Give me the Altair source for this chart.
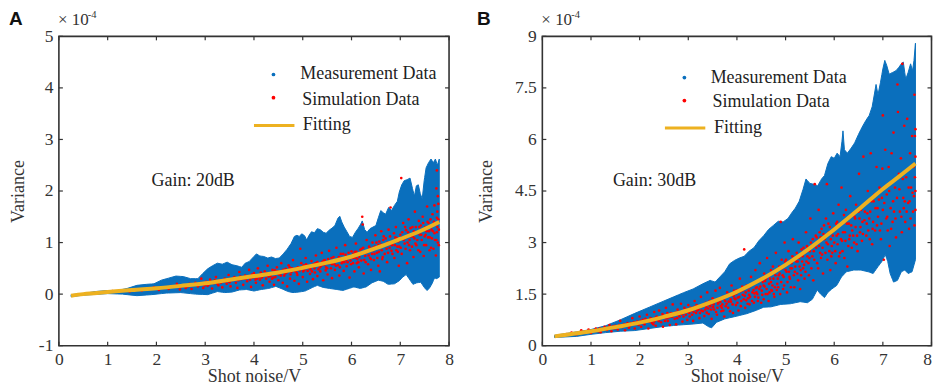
import altair as alt
import pandas as pd

FONT = "Liberation Serif"
INK = "#333333"
BLUE = "#0A6FBD"
RED = "#FF0000"
GOLD = "#EDB120"
H = 310

x_ticks = [0, 1, 2, 3, 4, 5, 6, 7, 8]
y_ticks_a = [-1, 0, 1, 2, 3, 4, 5]
y_ticks_b = [0, 1.5, 3, 4.5, 6, 7.5, 9]

fit_a_x = [0.25, 0.5, 1, 1.5, 2, 2.5, 3, 3.5, 4, 4.5, 5, 5.5, 6, 6.5, 7, 7.4, 7.8]
fit_a_y = [-0.03, 0.0, 0.04, 0.08, 0.115, 0.16, 0.21, 0.28, 0.35, 0.42, 0.51, 0.61, 0.73, 0.89, 1.07, 1.22, 1.4]
fit_b_x = [0.25, 0.5, 1, 1.5, 2, 2.5, 3, 3.5, 4, 4.5, 5, 5.5, 6, 6.5, 7, 7.35, 7.67]
fit_b_y = [0.27, 0.32, 0.42, 0.54, 0.67, 0.84, 1.03, 1.28, 1.57, 1.93, 2.35, 2.84, 3.38, 3.96, 4.56, 4.94, 5.3]

up_a = [(.25,-.01),(.5,.01),(.75,.05),(1,.07),(1.2,.07),(1.4,.11),(1.6,.17),(1.8,.19),(1.95,.2),(2.1,.27),(2.25,.31),(2.4,.35),(2.55,.34),(2.7,.3),(2.85,.3),(2.95,.4),(3.05,.49),(3.15,.55),(3.25,.6),(3.35,.58),(3.45,.62),(3.55,.57),(3.65,.55),(3.75,.52),(3.82,.6),(3.9,.63),(3.97,.7),(4.05,.78),(4.12,.74),(4.2,.73),(4.28,.7),(4.36,.72),(4.44,.69),(4.52,.7),(4.6,.78),(4.68,.87),(4.76,.98),(4.83,1.12),(4.88,1.14),(4.93,1.12),(4.98,1.17),(5.04,1.13),(5.08,1.05),(5.13,1.14),(5.18,1.21),(5.24,1.19),(5.3,1.27),(5.36,1.25),(5.42,1.2),(5.48,1.18),(5.54,1.24),(5.6,1.28),(5.66,1.33),(5.72,1.47),(5.76,1.51),(5.8,1.4),(5.85,1.3),(5.9,1.22),(5.96,1.12),(6.02,1.1),(6.08,1.2),(6.14,1.28),(6.19,1.36),(6.22,1.42),(6.27,1.25),(6.32,1.2),(6.38,1.27),(6.44,1.3),(6.5,1.33),(6.55,1.48),(6.6,1.62),(6.65,1.58),(6.7,1.55),(6.76,1.68),(6.82,1.62),(6.88,1.72),(6.94,1.8),(6.98,1.98),(7.03,2.12),(7.08,2.2),(7.14,2.22),(7.2,2.25),(7.25,2.05),(7.29,1.9),(7.33,2.1),(7.37,2.12),(7.41,1.95),(7.45,1.85),(7.49,2.2),(7.53,2.45),(7.58,2.55),(7.63,2.62),(7.68,2.55),(7.72,2.62),(7.76,2.5),(7.8,2.62)]
lo_a = [(.25,-.05),(.5,-.02),(1,.01),(1.3,.0),(1.6,-.03),(1.9,-.01),(2.2,.02),(2.5,.03),(2.8,0),(3.05,-.01),(3.25,.05),(3.4,.03),(3.55,.04),(3.7,.08),(3.85,.09),(4.0,.06),(4.15,.09),(4.3,.11),(4.45,.15),(4.58,.1),(4.7,.05),(4.8,.03),(4.92,.04),(5.05,.06),(5.2,.13),(5.3,.17),(5.42,.13),(5.55,.11),(5.7,.09),(5.82,.07),(5.95,.11),(6.05,.14),(6.18,.11),(6.3,.14),(6.42,.22),(6.55,.27),(6.65,.25),(6.75,.19),(6.88,.2),(6.98,.26),(7.05,.33),(7.12,.38),(7.18,.3),(7.26,.19),(7.34,.22),(7.42,.23),(7.5,.12),(7.55,.07),(7.6,.12),(7.65,.2),(7.7,.31),(7.75,.3),(7.8,.33)]
up_b = [(.25,.3),(.7,.4),(1,.47),(1.3,.58),(1.6,.75),(1.9,.94),(2.2,1.12),(2.5,1.3),(2.7,1.42),(2.9,1.54),(3.1,1.65),(3.3,1.8),(3.45,1.9),(3.55,1.85),(3.65,2.0),(3.75,2.15),(3.85,2.38),(3.95,2.48),(4.05,2.55),(4.15,2.6),(4.25,2.75),(4.35,2.85),(4.45,3.05),(4.55,3.2),(4.65,3.38),(4.75,3.5),(4.85,3.62),(4.95,3.6),(5.05,3.7),(5.12,3.85),(5.2,4.0),(5.28,4.2),(5.36,4.55),(5.42,4.85),(5.5,4.72),(5.58,4.7),(5.66,4.65),(5.74,4.85),(5.8,4.95),(5.87,5.3),(5.94,5.5),(6.0,5.45),(6.06,5.6),(6.12,5.5),(6.16,5.95),(6.18,6.25),(6.21,5.7),(6.27,5.6),(6.35,5.75),(6.42,5.9),(6.5,6.15),(6.57,6.35),(6.65,6.55),(6.72,6.7),(6.78,6.95),(6.83,7.35),(6.86,7.6),(6.9,7.3),(6.95,7.65),(7.0,8.05),(7.04,8.3),(7.08,8.15),(7.13,7.9),(7.2,7.95),(7.27,8.0),(7.33,8.1),(7.38,8.2),(7.42,8.25),(7.47,7.75),(7.52,7.95),(7.57,8.2),(7.61,8.0),(7.64,8.3),(7.67,8.8)]
lo_b = [(.25,.24),(.7,.27),(1,.33),(1.3,.38),(1.6,.42),(1.9,.44),(2.2,.5),(2.5,.56),(2.8,.6),(3.1,.63),(3.3,.66),(3.42,.55),(3.48,.52),(3.58,.68),(3.75,.78),(4.0,.86),(4.2,.93),(4.4,1.03),(4.55,1.12),(4.7,1.13),(4.9,1.2),(5.1,1.22),(5.3,1.28),(5.45,1.25),(5.55,1.35),(5.65,1.62),(5.72,1.5),(5.8,1.4),(5.87,1.55),(5.95,1.65),(6.05,1.75),(6.15,2.0),(6.25,2.15),(6.4,2.2),(6.55,2.2),(6.7,2.15),(6.8,2.1),(6.9,2.3),(6.98,2.45),(7.05,2.65),(7.1,2.45),(7.15,2.1),(7.22,1.85),(7.3,1.9),(7.38,2.15),(7.45,2.2),(7.52,2.1),(7.6,2.15),(7.67,2.5)]

sim_a = [
(1.1,.06),(1.2,.05),(1.3,.07),(1.45,.05),(1.6,.09),(1.7,.07),(1.85,.1),(1.95,.13),(2.05,.08),(2.15,.12),(2.25,.1),(2.35,.15),(2.42,.2),(2.48,.09),(2.55,.17),(2.6,.12),(2.68,.2),(2.72,.1),(2.8,.22),(2.85,.15),(2.92,.3),(2.96,.12),
(3.02,.24),(3.05,.16),(3.1,.28),(3.14,.11),(3.18,.21),(3.22,.33),(3.27,.17),(3.3,.26),(3.35,.13),(3.4,.3),(3.44,.2),(3.48,.37),(3.52,.15),(3.55,.27),(3.6,.33),(3.63,.22),(3.66,.12),(3.7,.43),(3.74,.29),(3.78,.18),(3.82,.36),(3.86,.25),(3.9,.47),(3.94,.14),(3.97,.32),
(4.0,.41),(4.04,.22),(4.08,.5),(4.12,.28),(4.15,.37),(4.18,.17),(4.22,.44),(4.25,.3),(4.28,.55),(4.32,.24),(4.35,.39),(4.38,.47),(4.41,.18),(4.44,.33),(4.47,.52),(4.5,.27),(4.53,.42),(4.56,.6),(4.59,.22),(4.62,.36),(4.65,.49),(4.68,.15),(4.71,.56),(4.74,.3),(4.77,.43),(4.8,.66),(4.83,.26),(4.86,.5),(4.89,.37),(4.92,.2),(4.95,.88),(4.97,.6),
(5.0,.33),(5.03,.47),(5.06,.7),(5.09,.24),(5.12,.55),(5.15,.39),(5.18,.64),(5.21,.29),(5.24,.5),(5.27,.75),(5.3,.35),(5.33,.59),(5.36,.44),(5.39,.8),(5.42,.27),(5.45,.66),(5.48,.52),(5.51,.38),(5.54,.84),(5.57,.61),(5.6,.31),(5.63,.72),(5.66,.47),(5.69,.9),(5.72,.56),(5.75,.36),(5.78,.78),(5.81,.64),(5.84,.45),(5.87,.95),(5.9,.54),(5.93,.7),(5.96,.32),
(6.0,.83),(6.03,.6),(6.06,.44),(6.09,.98),(6.12,.68),(6.15,.52),(6.18,.86),(6.22,1.5),(6.23,1.35),(6.25,.4),(6.28,.74),(6.31,1.05),(6.34,.58),(6.37,.9),(6.4,.47),(6.43,1.0),(6.46,.66),(6.49,1.14),(6.52,.8),(6.55,.55),(6.58,.44),(6.61,1.22),(6.64,.72),(6.67,.95),(6.7,1.08),(6.73,.62),(6.76,1.25),(6.8,1.68),(6.82,.84),(6.85,1.02),(6.88,.7),(6.91,1.3),(6.94,.92),(6.97,.55),
(7.02,2.25),(7.0,1.15),(7.03,.78),(7.06,1.38),(7.09,.98),(7.12,1.24),(7.14,.6),(7.17,1.45),(7.2,.85),(7.22,1.12),(7.25,1.3),(7.27,.72),(7.3,1.6),(7.33,.95),(7.36,1.2),(7.38,1.42),(7.41,.82),(7.44,1.05),(7.46,1.5),(7.48,.74),(7.51,1.3),(7.53,.95),(7.55,1.7),(7.57,1.1),(7.6,.85),(7.62,1.45),(7.64,1.25),(7.66,1.55),(7.68,.88),(7.7,1.72),(7.71,1.05),(7.72,1.35),(7.73,.75),(7.74,2.05),(7.75,2.4),(7.75,1.2),(7.76,1.6),(7.77,1.9),(7.77,1.0),(7.78,1.45),(7.78,1.75),(7.79,1.25),(7.79,.95),
(7.15,1.0),(7.28,1.22),(7.35,1.05),(7.42,1.33),(7.5,1.12),(7.58,1.38),(6.65,1.05),(6.72,.88),(6.9,1.1),(6.95,.82),(6.35,.75),(6.45,.85),(6.55,.95),(6.2,.65),(6.1,.82),(5.95,.72),(5.85,.62),(5.7,.67),(5.6,.58),(5.5,.5),(5.4,.62),(5.25,.42),(5.1,.45),(4.9,.52),(4.75,.38),(4.6,.47),(4.4,.32),(4.2,.36),(4.1,.33),
(3.08,.19),(3.25,.2),(3.38,.24),(3.5,.23),(3.68,.27),(3.8,.3),(3.92,.28),(4.02,.35),(4.06,.3),(4.14,.42),(4.24,.38),(4.3,.34),(4.37,.3),(4.42,.4),(4.48,.44),(4.55,.36),(4.64,.4),(4.7,.45),(4.78,.5),(4.85,.44),(4.94,.46),(5.02,.56),(5.08,.53),(5.16,.48),(5.22,.58),(5.3,.62),(5.35,.52),(5.44,.57),(5.52,.68),(5.58,.5),(5.62,.63),(5.68,.55),(5.74,.72),(5.8,.6),(5.88,.76),(5.92,.62),(5.98,.65),(6.04,.78),(6.08,.7),(6.14,.62),(6.17,.78),(6.24,.9),(6.29,.62),(6.33,.82),(6.38,.7),(6.42,.78),(6.48,.92),(6.53,.7),(6.57,1.02),(6.62,.85),(6.68,.78),(6.74,1.0),(6.78,.9),(6.84,.78),(6.89,.95),(6.93,1.08),(6.98,.92),(7.04,1.2),(7.07,1.05),(7.11,.88),(7.16,1.2),(7.19,1.05),(7.24,.92),(7.29,1.08),(7.32,1.3),(7.37,.85),(7.4,1.15),(7.45,1.25),(7.49,.95),(7.54,1.22),(7.56,1.4),(7.61,1.1),(7.63,.9),(7.67,1.22),(7.69,1.4),(7.74,1.05),(7.76,1.3),
(2.5,.14),(2.64,.15),(2.76,.18),(2.88,.18),(2.99,.17),(3.12,.24),(3.2,.27),(3.32,.22),(3.42,.25),(3.57,.3),(3.72,.34),(3.84,.3),(3.88,.35),(3.96,.38),(4.03,.28),(4.16,.32),(4.27,.41),(4.34,.35),(4.43,.46),(4.51,.38),(4.58,.44),(4.67,.42),(4.73,.52),(4.82,.48),(4.88,.41),(4.96,.52),(5.01,.44),(5.07,.58),(5.14,.5),(5.19,.44),(5.26,.6),(5.32,.48),(5.38,.55),(5.43,.65),(5.47,.46),(5.53,.6),(5.59,.7),(5.65,.58),(5.71,.64),(5.76,.52),(5.79,.7),(5.83,.78),(5.89,.66),(5.94,.8),(5.99,.58),(6.03,.7),(6.07,.82),(6.11,.6),(6.16,.72),(6.21,.88),(6.26,.66),(6.3,.8),(6.36,.92),(6.4,.68),(6.44,.9),(6.47,.78),(6.51,1.0),(6.56,.82),(6.6,.96),(6.63,.68),(6.66,1.12),(6.71,.96),(6.75,.8),(6.79,1.12),(6.83,.95),(6.87,1.18),(6.92,.85),(6.96,1.02),(7.01,.9),(7.05,1.1),(7.1,1.3),(7.13,1.1),(7.18,.95),(7.21,1.28),(7.26,1.12),(7.31,.98),(7.34,1.18),(7.39,1.3),(7.43,1.15),(7.47,1.38),(7.52,1.15),(7.59,1.22),(7.65,1.08),(7.7,1.18),(7.75,1.48),
]

sim_b = [
(0.5,.34),(0.6,.38),(0.7,.33),(0.8,.45),(0.85,.38),(0.95,.47),(1.0,.37),(1.1,.5),(1.15,.42),(1.2,.39),(1.28,.55),(1.33,.46),(1.38,.6),(1.42,.42),(1.5,.58),(1.55,.47),(1.6,.72),(1.65,.54),(1.7,.45),(1.75,.66),(1.8,.58),(1.85,.8),(1.9,.5),(1.95,.7),
(2.0,.85),(2.03,.55),(2.07,.75),(2.1,.62),(2.15,.9),(2.18,.5),(2.22,.8),(2.25,.66),(2.3,.98),(2.33,.58),(2.37,.76),(2.4,1.02),(2.44,.68),(2.48,.55),(2.5,.88),(2.54,1.1),(2.58,.72),(2.62,.6),(2.65,.95),(2.68,1.2),(2.72,.78),(2.75,.62),(2.78,1.05),(2.82,.85),(2.85,1.22),(2.88,.7),(2.92,1.1),(2.95,.9),(2.98,.75),
(3.0,1.18),(3.03,.85),(3.06,1.02),(3.1,.72),(3.13,1.3),(3.16,.95),(3.2,1.12),(3.23,.8),(3.26,1.42),(3.3,1.0),(3.33,.86),(3.36,1.25),(3.39,1.55),(3.42,.92),(3.45,1.15),(3.48,.78),(3.5,1.38),(3.53,1.05),(3.56,1.6),(3.59,.9),(3.62,1.25),(3.65,1.68),(3.68,1.0),(3.71,1.42),(3.74,.85),(3.77,1.15),(3.8,1.55),(3.83,1.28),(3.86,1.0),(3.89,1.75),(3.92,.95),(3.95,1.38),(3.98,1.18),
(4.0,1.62),(4.03,1.02),(4.06,1.95),(4.09,1.3),(4.12,1.48),(4.15,2.8),(4.17,1.1),(4.2,1.75),(4.23,1.38),(4.26,1.2),(4.29,2.0),(4.32,1.55),(4.35,1.25),(4.38,2.2),(4.41,1.7),(4.44,1.4),(4.47,2.4),(4.5,1.25),(4.53,1.85),(4.56,2.1),(4.59,1.5),(4.62,2.55),(4.65,1.3),(4.68,1.95),(4.71,1.62),(4.74,2.3),(4.77,1.42),(4.8,2.7),(4.83,1.8),(4.86,2.05),(4.9,3.6),(4.89,1.5),(4.92,2.5),(4.95,1.65),(4.98,3.0),
(5.0,2.2),(5.03,1.55),(5.06,2.75),(5.09,1.95),(5.12,2.4),(5.15,3.1),(5.18,1.7),(5.21,2.55),(5.24,2.1),(5.27,3.0),(5.3,1.65),(5.33,2.8),(5.36,2.25),(5.39,1.95),(5.42,3.3),(5.45,2.6),(5.48,2.05),(5.51,3.7),(5.54,2.9),(5.57,1.9),(5.6,4.7),(5.62,3.2),(5.65,2.4),(5.68,3.95),(5.71,2.7),(5.74,3.4),(5.77,2.1),(5.8,3.1),(5.85,4.7),(5.83,3.7),(5.86,2.5),(5.89,3.3),(5.92,2.2),(5.95,2.9),(5.98,3.85),
(6.0,3.0),(6.03,2.4),(6.06,3.6),(6.09,4.1),(6.12,2.7),(6.15,4.6),(6.18,3.3),(6.21,2.55),(6.24,3.95),(6.27,2.3),(6.3,3.55),(6.33,4.35),(6.36,2.85),(6.39,3.2),(6.42,3.75),(6.45,4.1),(6.48,2.75),(6.51,5.0),(6.54,3.45),(6.57,3.05),(6.6,5.5),(6.63,3.9),(6.66,3.2),(6.69,4.5),(6.72,3.7),(6.75,5.6),(6.78,2.95),(6.81,4.2),(6.84,3.35),(6.87,5.2),(6.9,3.75),(6.93,4.6),(6.96,3.1),(7.0,6.7),(6.99,5.15),
(7.0,3.95),(7.02,2.5),(7.05,5.7),(7.08,4.4),(7.1,3.35),(7.12,5.2),(7.14,2.9),(7.16,4.0),(7.18,5.6),(7.2,3.6),(7.22,6.2),(7.25,4.6),(7.27,3.15),(7.3,7.6),(7.31,6.8),(7.33,5.0),(7.35,3.9),(7.37,5.45),(7.39,3.3),(7.4,8.2),(7.42,4.3),(7.44,6.4),(7.46,3.6),(7.48,4.9),(7.5,6.6),(7.52,4.15),(7.54,3.4),(7.56,5.6),(7.58,4.6),(7.6,6.1),(7.62,3.9),(7.63,5.2),(7.64,4.35),(7.65,7.3),(7.65,3.5),(7.66,6.1),(7.66,4.9),(7.67,5.5),(7.67,3.95),(7.67,6.3),(7.67,4.5),
(2.3,.7),(2.6,.82),(2.9,.97),(3.15,1.08),(3.4,1.2),(3.6,1.1),(3.7,1.2),(3.85,1.45),(3.95,1.5),(4.1,1.6),(4.25,1.7),(4.4,1.55),(4.55,1.75),(4.7,1.85),(4.85,1.7),(4.95,2.3),(5.1,2.25),(5.25,2.45),(5.4,2.7),(5.55,2.6),(5.7,3.05),(5.9,2.75),(6.05,3.2),(6.2,3.8),(6.35,3.5),(6.5,3.9),(6.7,3.35),(6.85,4.0),(7.07,3.7),(7.23,3.9),(7.43,4.0),(7.55,4.2),
(1.25,.48),(1.4,.52),(1.48,.5),(1.58,.6),(1.68,.62),(1.78,.52),(1.88,.68),(1.98,.6),(2.06,.66),(2.12,.78),(2.2,.7),(2.28,.62),(2.35,.85),(2.42,.78),(2.47,.92),(2.52,.72),(2.57,.95),(2.63,.85),(2.7,.92),(2.77,.8),(2.83,.98),(2.9,.85),(2.96,1.05),(3.02,.95),(3.08,.9),(3.12,1.12),(3.18,1.02),(3.24,.95),(3.28,1.15),(3.35,1.05),(3.38,.96),(3.44,1.3),(3.47,1.05),(3.52,1.2),(3.57,.98),(3.63,1.35),(3.67,1.15),(3.72,1.02),(3.76,1.3),(3.82,1.1),(3.87,1.35),(3.91,1.2),(3.94,1.6),(3.97,1.35),(4.01,1.25),(4.05,1.42),(4.08,1.15),(4.11,1.72),(4.14,1.35),(4.18,1.55),(4.22,1.22),(4.25,1.48),(4.28,1.75),(4.31,1.3),(4.34,1.62),(4.37,1.42),(4.4,1.85),(4.43,1.3),(4.46,1.65),(4.49,1.95),(4.52,1.48),(4.55,1.35),(4.58,1.88),(4.61,1.65),(4.64,2.05),(4.67,1.55),(4.7,2.2),(4.73,1.75),(4.76,1.5),(4.79,2.05),(4.82,1.62),(4.87,2.3),(4.91,1.85),(4.94,2.05),(4.97,1.75),(5.01,2.5),(5.04,1.85),(5.07,2.15),(5.11,1.7),(5.14,2.6),(5.17,2.05),(5.2,2.3),(5.23,2.7),(5.26,1.9),(5.29,2.3),(5.32,2.05),(5.35,2.6),(5.38,2.35),(5.41,2.15),(5.44,2.9),(5.47,2.4),(5.5,2.75),(5.53,2.25),(5.56,3.1),(5.59,2.5),(5.63,2.85),(5.67,2.25),(5.7,3.3),(5.73,2.55),(5.76,2.85),(5.79,3.5),(5.82,2.7),(5.87,2.95),(5.91,3.45),(5.94,2.6),(5.97,3.2),(6.02,2.75),(6.07,2.95),(6.1,2.6),(6.14,3.1),(6.17,2.75),(6.23,3.05),(6.26,3.55),(6.29,2.9),(6.32,3.2),(6.38,3.85),(6.41,3.0),(6.44,3.45),(6.47,3.2),(6.52,3.7),(6.55,3.95),(6.59,3.25),(6.62,3.65),(6.68,3.85),(6.73,3.1),(6.77,4.2),(6.8,3.6),(6.88,3.5),(6.92,4.25),(6.97,3.55),(7.03,4.15),(7.09,3.75),(7.13,4.5),(7.17,3.4),(7.21,4.2),(7.26,3.7),(7.29,4.3),(7.34,4.55),(7.38,3.75),(7.41,4.85),(7.45,4.2),(7.49,3.9),(7.53,4.6),(7.57,3.7),(7.61,4.45),
(0.9,.42),(1.05,.44),(1.18,.5),(1.35,.52),(1.45,.56),(1.52,.53),(1.62,.57),(1.72,.6),(1.82,.66),(1.92,.63),(2.02,.72),(2.09,.68),(2.16,.74),(2.24,.78),(2.32,.8),(2.39,.72),(2.45,.84),(2.55,.8),(2.6,.9),(2.67,.84),(2.74,.96),(2.8,.9),(2.87,.92),(2.93,1.0),(2.99,.98),(3.05,1.1),(3.11,.98),(3.17,1.18),(3.21,1.05),(3.27,1.02),(3.32,1.2),(3.37,1.12),(3.41,1.08),(3.46,1.22),(3.51,1.12),(3.55,1.3),(3.61,1.22),(3.66,1.28),(3.69,1.1),(3.73,1.36),(3.79,1.22),(3.84,1.5),(3.88,1.28),(3.93,1.45),(3.99,1.52),(4.02,1.4),(4.07,1.58),(4.13,1.62),(4.16,1.45),(4.19,1.32),(4.24,1.6),(4.27,1.42),(4.33,1.8),(4.36,1.52),(4.39,1.68),(4.42,1.5),(4.45,1.9),(4.48,1.72),(4.51,1.6),(4.54,1.98),(4.57,1.72),(4.6,1.95),(4.63,1.5),(4.66,1.8),(4.69,2.1),(4.72,1.6),(4.75,1.95),(4.78,1.7),(4.81,2.2),(4.84,1.95),(4.88,2.1),(4.93,2.25),(4.96,2.0),(4.99,2.45),(5.02,2.15),(5.05,2.4),(5.08,2.0),(5.13,2.25),(5.16,2.5),(5.19,2.15),(5.22,2.45),(5.28,2.55),(5.31,2.2),(5.34,2.45),(5.37,2.85),(5.43,2.45),(5.46,2.85),(5.49,2.55),(5.52,3.0),(5.58,2.75),(5.61,2.95),(5.64,3.15),(5.69,2.9),(5.72,3.15),(5.75,2.65),(5.78,3.25),(5.84,3.0),(5.88,3.55),(5.93,3.1),(5.96,2.7),(5.99,3.4),(6.04,3.55),(6.08,3.25),(6.13,3.55),(6.16,3.05),(6.22,3.3),(6.28,3.7),(6.31,3.1),(6.37,3.35),(6.43,3.7),(6.46,2.95),(6.53,3.3),(6.58,3.6),(6.64,4.15),(6.67,3.55),(6.74,3.9),(6.79,3.4),(6.83,4.4),(6.89,4.0),(6.94,3.35),(6.98,4.3),
]


def panel(letter, W, ymin, ymax, y_ticks, xt, fit_x, fit_y, up, lo, sim,
          leg_marker_x, leg_y, leg_line, leg_text_x, leg_text_y, gain, gain_pos, letter_dx, ytitle_pad, end_label):
    sx = alt.Scale(domain=[0, 8], nice=False, zero=False)
    sy = alt.Scale(domain=[ymin, ymax], nice=False, zero=False)
    xaxis = alt.Axis(values=xt, ticks=False, domain=False, grid=False, title="Shot noise/V",
                     titleFont=FONT, titleFontSize=18, titleFontWeight="normal", titleColor=INK,
                     titlePadding=-1, labelFont=FONT, labelFontSize=17.5, labelColor=INK,
                     labelPadding=5, labelAngle=0, labelFlush=False)
    yaxis = alt.Axis(values=y_ticks, ticks=False, domain=False, grid=False, title="Variance",
                     titleFont=FONT, titleFontSize=18, titleFontWeight="normal", titleColor=INK,
                     titlePadding=ytitle_pad, labelFont=FONT, labelFontSize=17.5, labelColor=INK,
                     labelPadding=6, labelExpr="'' + datum.value")
    X = alt.X("x:Q", scale=sx, axis=xaxis)
    Y = alt.Y("y:Q", scale=sy, axis=yaxis)

    up_x, up_y = zip(*up)
    lo_x, lo_y = zip(*lo)
    xs = sorted(set(up_x) | set(lo_x))
    band = pd.DataFrame({
        "x": xs,
        "hi": pd.Series(up_y, index=up_x).reindex(xs).interpolate(method="index").values,
        "lo": pd.Series(lo_y, index=lo_x).reindex(xs).interpolate(method="index").values,
    })
    area = alt.Chart(band).mark_area(color=BLUE, opacity=1, stroke=BLUE, strokeWidth=1).encode(
        x=X, y=alt.Y("hi:Q", scale=sy, axis=yaxis), y2="lo:Q")
    sim_df = pd.DataFrame(sim, columns=["x", "y"])
    red = alt.Chart(sim_df).mark_circle(color=RED, size=7, opacity=1).encode(x=X, y=Y)
    fit = alt.Chart(pd.DataFrame({"x": fit_x, "y": fit_y})).mark_line(
        color=GOLD, strokeWidth=4, interpolate="monotone").encode(x=X, y=Y)

    leg_pts = pd.DataFrame({"x": [leg_marker_x, leg_marker_x], "y": leg_y, "c": [BLUE, RED]})
    leg_p = alt.Chart(leg_pts).mark_circle(size=14, opacity=1).encode(
        x=X, y=Y, color=alt.Color("c:N", scale=None))
    leg_l = alt.Chart(pd.DataFrame({"x": leg_line[:2], "y": [leg_line[2]] * 2})).mark_line(
        color=GOLD, strokeWidth=3).encode(x=X, y=Y)
    leg_t = alt.Chart(pd.DataFrame({"x": leg_text_x, "y": leg_text_y,
                                    "t": ["Measurement Data", "Simulation Data", "Fitting"]})).mark_text(
        font=FONT, fontSize=18, color="#222222", align="left", baseline="middle").encode(x=X, y=Y, text="t:N")
    gain_t = alt.Chart(pd.DataFrame({"x": [gain_pos[0]], "y": [gain_pos[1]], "t": [gain]})).mark_text(
        font=FONT, fontSize=18, color="#222222", align="left", baseline="middle").encode(x=X, y=Y, text="t:N")

    tick_df = pd.DataFrame({"v": x_ticks})
    ytick_df = pd.DataFrame({"v": y_ticks})
    tick_style = dict(color=INK, strokeWidth=1.2)
    tx = alt.X("v:Q", scale=sx, axis=xaxis)
    ty = alt.Y("v:Q", scale=sy, axis=yaxis)
    ticks = [
        alt.Chart(tick_df).mark_rule(**tick_style).encode(x=tx, y=alt.value(0), y2=alt.value(4)),
        alt.Chart(tick_df).mark_rule(**tick_style).encode(x=tx, y=alt.value(H), y2=alt.value(H - 4)),
        alt.Chart(ytick_df).mark_rule(**tick_style).encode(y=ty, x=alt.value(0), x2=alt.value(4)),
        alt.Chart(ytick_df).mark_rule(**tick_style).encode(y=ty, x=alt.value(W), x2=alt.value(W - 4)),
    ]

    def label(txt, px, py, size, font=FONT, weight="normal", color=INK, align="left", baseline="alphabetic"):
        return alt.Chart(pd.DataFrame({"t": [txt]})).mark_text(
            font=font, fontSize=size, fontWeight=weight, color=color, align=align, baseline=baseline
        ).encode(x=alt.value(px), y=alt.value(py), text="t:N")

    extras = [
        label("× 10", -1, -11, 17),
        label("-4", 29, -18.5, 10.5),
        label(letter, letter_dx, -11, 19, font="Liberation Sans", weight="bold", color="#111111"),
    ]
    if end_label:
        extras.append(label(end_label, W + 0.5, H + 5, 17.5, align="right", baseline="top"))
    return alt.layer(area, red, fit, leg_p, leg_l, leg_t, gain_t, *ticks, *extras).properties(width=W, height=H)


a = panel("A", 391, -1, 5, y_ticks_a, x_ticks, fit_a_x, fit_a_y, up_a, lo_a, sim_a,
          4.4, [4.26, 3.81], [4.0, 4.83, 3.27], [4.95, 4.99, 5.0], [4.27, 3.77, 3.28],
          "Gain: 20dB", (1.9, 2.2), -50, 10.5, None)
b = panel("B", 390, 0, 9, y_ticks_b, x_ticks[:-1], fit_b_x, fit_b_y, up_b, lo_b, sim_b,
          2.92, [7.8, 7.13], [2.52, 3.35, 6.33], [3.46, 3.5, 3.53], [7.79, 7.08, 6.34],
          "Gain: 30dB", (1.45, 4.78), -65.5, 19, "8")

chart = alt.hconcat(a, b, spacing=93.5, bounds="flush").resolve_scale(
    x="independent", y="independent"
).configure_view(stroke=INK, strokeWidth=1.6).properties(
    padding={"left": 0, "top": 0, "right": 0, "bottom": -5}
)
chart.save("out.html", embed_options={"renderer": "svg", "actions": False})
